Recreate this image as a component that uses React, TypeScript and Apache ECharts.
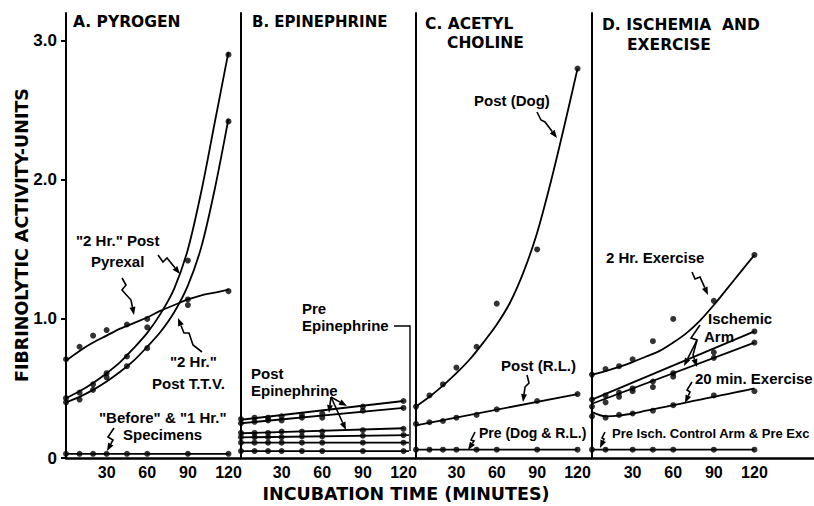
import React, { useEffect, useRef } from "react";
import * as echarts from "echarts";

// ---------- data ----------
const T = [0, 10, 20, 30, 45, 60, 90, 120];
const CT = [0, 10, 20, 30, 40, 50, 60, 70, 80, 90, 100, 110, 120];

// Panel A  Pyrogen
const aPyrexalPts = [0.43, 0.47, 0.53, 0.61, 0.73, 0.94, 1.42, 2.9];
const aTtvPts = [0.4, 0.42, 0.49, 0.58, 0.66, 0.79, 1.1, 2.42];
const aFlatPts = [0.71, 0.8, 0.88, 0.92, 0.96, 1.0, 1.14, 1.2];
const aBeforePts = [0.03, 0.03, 0.03, 0.03, 0.03, 0.03, 0.03, 0.03];
const aPyrexalCurve = [0.43, 0.48, 0.54, 0.61, 0.69, 0.79, 0.9, 1.04, 1.22, 1.5, 1.92, 2.42, 2.92];
const aTtvCurve = [0.4, 0.44, 0.49, 0.55, 0.62, 0.7, 0.8, 0.91, 1.05, 1.24, 1.52, 1.94, 2.44];
const aFlatCurve = [0.7, 0.77, 0.83, 0.88, 0.93, 0.97, 1.01, 1.06, 1.1, 1.14, 1.17, 1.19, 1.21];
const aBeforeLineT = [0, 120];
const aBeforeLineV = [0.03, 0.03];

// Panel B  Epinephrine
const b1Pts = [0.28, 0.29, 0.29, 0.3, 0.31, 0.32, 0.37, 0.41];
const b2Pts = [0.25, 0.26, 0.27, 0.27, 0.29, 0.29, 0.34, 0.36];
const b3Pts = [0.18, 0.18, 0.18, 0.19, 0.19, 0.19, 0.2, 0.21];
const b4Pts = [0.15, 0.15, 0.15, 0.15, 0.155, 0.155, 0.16, 0.165];
const b5Pts = [0.11, 0.11, 0.11, 0.11, 0.11, 0.11, 0.11, 0.11];
const b6Pts = [0.05, 0.05, 0.05, 0.05, 0.05, 0.05, 0.05, 0.05];
const bShortT = [0, 120];
const bLongT = [0, 124];
const b1Line = [0.275, 0.41];
const b2Line = [0.25, 0.36];
const b3Line = [0.178, 0.214];
const b4Line = [0.148, 0.165];
const b5Line = [0.11, 0.11];
const b6Line = [0.05, 0.05];

// Panel C  Acetyl choline
const cDogPts = [0.37, 0.45, 0.53, 0.65, 0.8, 1.11, 1.5, 2.8];
const cRLPts = [0.245, 0.257, 0.266, 0.29, 0.31, 0.35, 0.41, 0.46];
const cPrePts = [0.06, 0.06, 0.06, 0.06, 0.06, 0.06, 0.06, 0.06];
const cDogCurve = [0.37, 0.44, 0.52, 0.61, 0.71, 0.83, 0.96, 1.12, 1.34, 1.62, 1.98, 2.38, 2.8];
const cLineT = [0, 120];
const cRLLine = [0.235, 0.46];
const cPreLine = [0.06, 0.06];

// Panel D  Ischemia and exercise
const d2hrPts = [0.6, 0.64, 0.66, 0.71, 0.84, 1.0, 1.13, 1.46];
const dIsch1Pts = [0.42, 0.45, 0.47, 0.5, 0.55, 0.61, 0.76, 0.91];
const dIsch2Pts = [0.37, 0.4, 0.44, 0.48, 0.51, 0.585, 0.72, 0.83];
const d20Pts = [0.3, 0.29, 0.31, 0.32, 0.34, 0.38, 0.45, 0.48];
const dPreT = [0, 10, 30, 45, 60, 90, 120];
const dPrePts = [0.06, 0.06, 0.06, 0.06, 0.06, 0.06, 0.06];
const d2hrCurve = [0.6, 0.625, 0.655, 0.69, 0.73, 0.77, 0.83, 0.9, 0.99, 1.1, 1.22, 1.34, 1.46];
const d20Curve = [0.33, 0.3, 0.305, 0.32, 0.34, 0.36, 0.38, 0.4, 0.42, 0.44, 0.46, 0.48, 0.5];
const dLineT = [0, 120];
const dIsch1Line = [0.42, 0.91];
const dIsch2Line = [0.39, 0.83];
const dPreLine = [0.06, 0.06];

const xTickLabels = [30, 60, 90, 120];

// ---------- helpers ----------
const BLK = "#000";
const ANN = "Liberation Sans, Arial, sans-serif";
const HEAD = "DejaVu Sans, sans-serif";

const pairs = (ts: number[], vs: number[]) => ts.map((t, i) => [t, vs[i]]);

const scatter = (idx: number, ts: number[], vs: number[]) => ({
  type: "scatter",
  xAxisIndex: idx,
  yAxisIndex: idx,
  data: pairs(ts, vs),
  symbolSize: 6,
  itemStyle: { color: BLK },
  z: 4,
});

const line = (idx: number, ts: number[], vs: number[], smooth = false) => ({
  type: "line",
  xAxisIndex: idx,
  yAxisIndex: idx,
  data: pairs(ts, vs),
  symbol: "none",
  showSymbol: false,
  smooth: smooth ? 0.3 : false,
  lineStyle: { color: BLK, width: 1.8 },
  z: 3,
});

function txt(text: string, x: number, y: number, size = 15, fam = ANN, align = "left") {
  return {
    type: "text",
    x,
    y,
    z: 10,
    style: {
      text,
      font: `bold ${size}px ${fam}`,
      fill: BLK,
      textAlign: align,
      align,
      textVerticalAlign: "middle",
      verticalAlign: "middle",
    },
  };
}

function arrow(pts: number[][]) {
  const n = pts.length;
  const [x1, y1] = pts[n - 2];
  const [x2, y2] = pts[n - 1];
  const dx = x2 - x1;
  const dy = y2 - y1;
  const L = Math.sqrt(dx * dx + dy * dy) || 1;
  const ux = dx / L;
  const uy = dy / L;
  const bx = x2 - ux * 8;
  const by = y2 - uy * 8;
  const px = -uy * 3;
  const py = ux * 3;
  return [
    {
      type: "polyline",
      z: 10,
      shape: { points: pts.slice(0, n - 1).concat([[bx, by]]) },
      style: { stroke: BLK, lineWidth: 1.6, fill: "none" },
    },
    {
      type: "polygon",
      z: 10,
      shape: { points: [[x2, y2], [bx + px, by + py], [bx - px, by - py]] },
      style: { fill: BLK },
    },
  ];
}

function plainLine(pts: number[][]) {
  return {
    type: "polyline",
    z: 10,
    shape: { points: pts },
    style: { stroke: BLK, lineWidth: 1.4, fill: "none" },
  };
}

export default function App() {
  const ref = useRef<HTMLDivElement>(null);

  useEffect(() => {
    document.body.style.margin = "0";
    if (!ref.current) return;
    const chart = echarts.init(ref.current, undefined, { renderer: "svg" });

    const gridsDef = [
      { left: 66, width: 174, max: 128.5 },
      { left: 241, width: 174, max: 128.5 },
      { left: 416, width: 175, max: 130 },
      { left: 592, width: 222, max: 164 },
    ];

    const grid = gridsDef.map((g) => ({ left: g.left, width: g.width, top: 13, height: 445 }));

    const xAxis = gridsDef.map((g, i) => ({
      type: "value",
      gridIndex: i,
      min: 0,
      max: g.max,
      interval: 30,
      axisLine: { show: true, lineStyle: { color: BLK, width: 2.5 } },
      axisTick: { show: false },
      splitLine: { show: false },
      axisLabel: {
        show: true,
        margin: 6,
        color: BLK,
        fontFamily: ANN,
        fontWeight: "bold",
        fontSize: 16,
        showMaxLabel: false,
        formatter: (v: number) => (xTickLabels.indexOf(v) >= 0 ? String(v) : ""),
      },
    }));

    const yAxis = gridsDef.map((g, i) => ({
      type: "value",
      gridIndex: i,
      min: 0,
      max: 3.2,
      interval: 1,
      axisLine: { show: true, lineStyle: { color: BLK, width: 2 } },
      axisTick: { show: i === 0, length: 5, lineStyle: { color: BLK, width: 2 } },
      splitLine: { show: false },
      axisLabel: {
        show: i === 0,
        margin: 9,
        color: BLK,
        fontFamily: ANN,
        fontWeight: "bold",
        fontSize: 17,
        showMaxLabel: false,
        formatter: (v: number) => (v === 0 ? "0" : Number.isInteger(v) ? v.toFixed(1) : ""),
      },
    }));

    const series: any[] = [
      // A
      line(0, CT, aPyrexalCurve, true),
      line(0, CT, aTtvCurve, true),
      line(0, CT, aFlatCurve, true),
      line(0, aBeforeLineT, aBeforeLineV),
      scatter(0, T, aPyrexalPts),
      scatter(0, T, aTtvPts),
      scatter(0, T, aFlatPts),
      scatter(0, T, aBeforePts),
      // B
      line(1, bShortT, b1Line),
      line(1, bShortT, b2Line),
      line(1, bShortT, b3Line),
      line(1, bLongT, b4Line),
      line(1, bLongT, b5Line),
      line(1, bLongT, b6Line),
      scatter(1, T, b1Pts),
      scatter(1, T, b2Pts),
      scatter(1, T, b3Pts),
      scatter(1, T, b4Pts),
      scatter(1, T, b5Pts),
      scatter(1, T, b6Pts),
      // C
      line(2, CT, cDogCurve, true),
      line(2, cLineT, cRLLine),
      line(2, cLineT, cPreLine),
      scatter(2, T, cDogPts),
      scatter(2, T, cRLPts),
      scatter(2, T, cPrePts),
      // D
      line(3, CT, d2hrCurve, true),
      line(3, dLineT, dIsch1Line),
      line(3, dLineT, dIsch2Line),
      line(3, CT, d20Curve, true),
      line(3, dLineT, dPreLine),
      scatter(3, T, d2hrPts),
      scatter(3, T, dIsch1Pts),
      scatter(3, T, dIsch2Pts),
      scatter(3, T, d20Pts),
      scatter(3, dPreT, dPrePts),
    ];

    const graphic: any[] = [
      // panel titles
      txt("A. PYROGEN", 73, 22, 15.5, HEAD),
      txt("B. EPINEPHRINE", 252, 22, 15, HEAD),
      txt("C. ACETYL", 425, 24, 15.5, HEAD),
      txt("CHOLINE", 447, 43, 15.5, HEAD),
      txt("D. ISCHEMIA  AND", 602, 25, 15.5, HEAD),
      txt("EXERCISE", 627, 45, 15.5, HEAD),
      // axis titles
      {
        type: "text",
        x: 22,
        y: 235,
        rotation: Math.PI / 2,
        z: 10,
        style: {
          text: "FIBRINOLYTIC ACTIVITY-UNITS",
          font: `bold 17.5px ${HEAD}`,
          fill: BLK,
          textAlign: "center",
          align: "center",
          textVerticalAlign: "middle",
          verticalAlign: "middle",
        },
      },
      txt("INCUBATION TIME (MINUTES)", 406, 494, 17.5, HEAD, "center"),
      // A annotations
      txt('"2 Hr." Post', 76, 240),
      txt("Pyrexal", 91, 261),
      txt('"2 Hr."', 170, 361),
      txt("Post T.T.V.", 152, 383),
      txt('"Before" & "1 Hr."', 99, 417),
      txt("Specimens", 123, 434),
      ...arrow([[158, 255], [163, 262], [167, 258], [180, 274]]),
      ...arrow([[122, 278], [126, 285], [122, 290], [131, 300], [134, 315]]),
      ...arrow([[202, 352], [193, 345], [189, 333], [184, 333], [178, 318]]),
      ...arrow([[114, 428], [108, 437], [113, 440], [107, 451]]),
      // B annotations
      txt("Pre", 302, 308),
      txt("Epinephrine", 302, 325),
      txt("Post", 251, 373),
      txt("Epinephrine", 251, 390),
      plainLine([[394, 326], [410, 326], [410, 451]]),
      ...arrow([[331, 397], [347, 406]]),
      ...arrow([[331, 397], [329, 413]]),
      ...arrow([[331, 397], [346, 430]]),
      // C annotations
      txt("Post (Dog)", 474, 100),
      txt("Post (R.L.)", 501, 365),
      txt("Pre (Dog & R.L.)", 479, 433, 14),
      ...arrow([[537, 112], [541, 120], [545, 122], [557, 138]]),
      ...arrow([[527, 375], [529, 383], [525, 387], [523, 402]]),
      ...arrow([[475, 432], [471, 440], [474, 441], [468, 450]]),
      // D annotations
      txt("2 Hr. Exercise", 606, 257),
      txt("Ischemic", 708, 318),
      txt("Arm", 704, 336),
      txt("20 min. Exercise", 695, 378),
      txt("Pre Isch. Control Arm & Pre Exc", 612, 433, 13),
      ...arrow([[692, 272], [695, 279], [700, 277], [708, 295]]),
      ...arrow([[700, 325], [691, 338], [697, 340], [684, 366]]),
      ...arrow([[697, 340], [693, 355], [697, 367]]),
      ...arrow([[692, 382], [687, 390], [690, 392], [685, 403]]),
      ...arrow([[605, 432], [602, 438], [604, 439], [600, 448]]),
    ];

    chart.setOption({
      animation: false,
      backgroundColor: "#fff",
      grid,
      xAxis,
      yAxis,
      series,
      graphic,
    });

    return () => chart.dispose();
  }, []);

  return <div ref={ref} style={{ width: 814, height: 506 }} />;
}
